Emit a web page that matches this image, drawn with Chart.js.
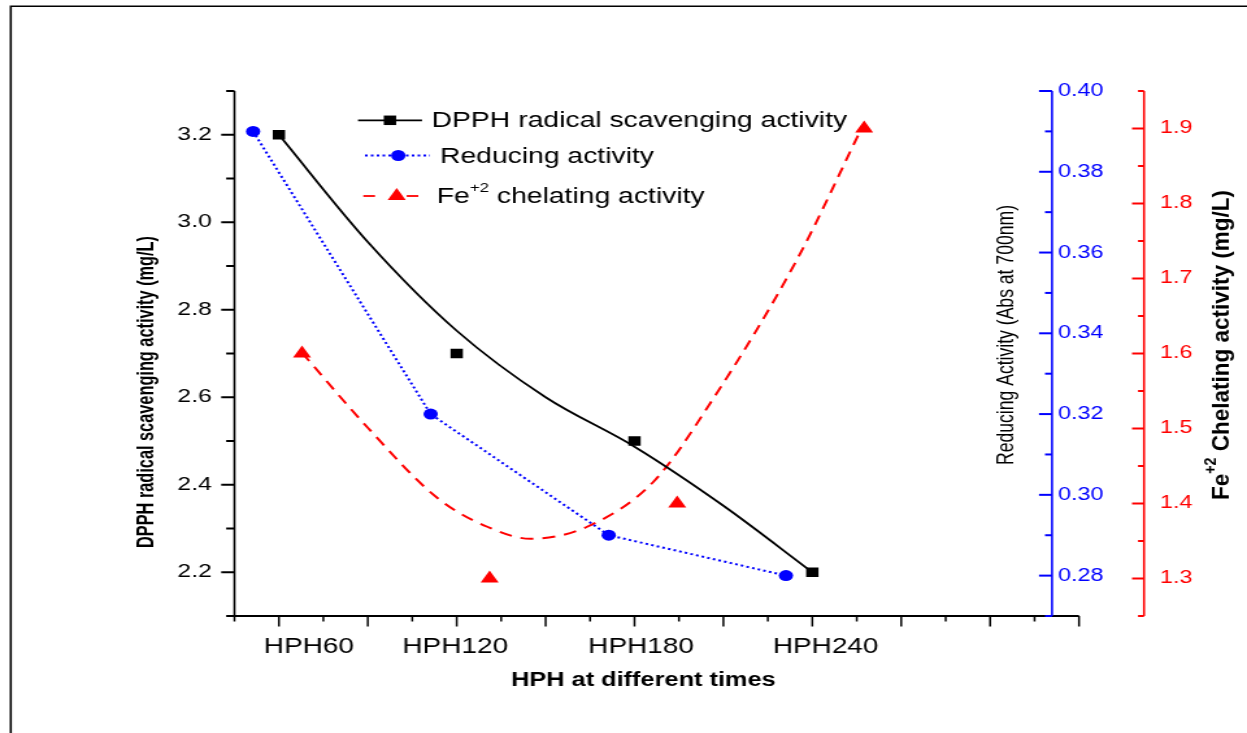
<!DOCTYPE html>
<html>
<head>
<meta charset="utf-8">
<title>HPH activities</title>
<script src="https://cdn.jsdelivr.net/npm/chart.js@4.4.1/dist/chart.umd.min.js"></script>
<style>
    html, body { margin: 0; padding: 0; background: #fff; overflow: hidden; }
    /* the original figure is stretched sideways, so draw narrow and widen it */
    #wrap { width: 960px; height: 733px; transform: scaleX(1.29896); transform-origin: 0 0; }
</style>
</head>
<body>
<div id="wrap"><canvas id="chart" width="960" height="733"></canvas></div>
<script>
// x axis tick labels
var timeLabels = ['HPH60', 'HPH120', 'HPH180', 'HPH240'];

// DPPH radical scavenging activity (mg/L) - squares
var dpphTimes = [60, 120, 180, 240];
var dpphValues = [3.2, 2.7, 2.5, 2.2];
// smoothed DPPH line
var dpphCurveTimes = [60, 90, 120, 150, 180, 210, 240];
var dpphCurveValues = [3.2, 2.955, 2.752, 2.600, 2.487, 2.352, 2.2];

// Reducing activity (Abs at 700nm) - circles
var reducingTimes = [51.3, 111.2, 171.3, 231.1];
var reducingValues = [0.39, 0.32, 0.29, 0.28];

// Fe+2 chelating activity (mg/L) - triangles
var chelatingTimes = [67.8, 131.1, 194.4, 257.5];
var chelatingValues = [1.6, 1.3, 1.4, 1.9];
// fitted chelating curve
var chelatingCurveTimes = [67.8, 90, 113.6, 130.3, 144.9, 164, 186.4, 205.6, 234.8, 256.7];
var chelatingCurveValues = [1.601, 1.501, 1.407, 1.369, 1.353, 1.369, 1.429, 1.534, 1.725, 1.901];

// layout (canvas px, before the sideways stretch)
var S = 1247 / 960;
var labelTimes = [70.1, 119.5, 182.2, 244.5];   // where the x labels sit
var blueAxisX = 1052 / S;
var redAxisX = 1144 / S;
var FONT = '"Liberation Sans", Arial, sans-serif';

function pts(xs, ys) {
    return xs.map(function (x, i) { return { x: x, y: ys[i] }; });
}

function seg(ctx, x1, y1, x2, y2) {
    ctx.beginPath();
    ctx.moveTo(x1, y1);
    ctx.lineTo(x2, y2);
    ctx.stroke();
}

// rotated axis title, squeezed to a given length (the original uses a narrow face)
function drawRotated(ctx, pieces, cx, cy, length) {
    var total = 0;
    pieces.forEach(function (p) {
        ctx.font = p.font;
        p.w = ctx.measureText(p.text).width;
        total += p.w;
    });
    ctx.save();
    ctx.translate(cx, cy);
    ctx.rotate(-Math.PI / 2);
    ctx.scale(length / total, 1);
    ctx.textAlign = 'left';
    ctx.textBaseline = 'middle';
    var x = -total / 2;
    pieces.forEach(function (p) {
        ctx.font = p.font;
        ctx.fillText(p.text, x, p.rise || 0);
        x += p.w;
    });
    ctx.restore();
}

function marker(ctx, style, x, y, color) {
    ctx.fillStyle = color;
    ctx.beginPath();
    if (style === 'rect') {
        ctx.rect(x - 4.75, y - 4.75, 9.5, 9.5);
    } else if (style === 'circle') {
        ctx.arc(x, y, 5.5, 0, Math.PI * 2);
    } else {
        ctx.moveTo(x, y - 8);
        ctx.lineTo(x + 6.93, y + 4);
        ctx.lineTo(x - 6.93, y + 4);
        ctx.closePath();
    }
    ctx.fill();
}

var originAxes = {
    id: 'originAxes',
    beforeDraw: function (chart) {
        var ctx = chart.ctx;
        ctx.save();
        ctx.fillStyle = '#fff';
        ctx.fillRect(0, 0, chart.width, chart.height);
        // outer frame, only top and left edges show
        ctx.strokeStyle = '#000';
        ctx.lineWidth = 1.6;
        ctx.beginPath();
        ctx.moveTo(8.3, chart.height);
        ctx.lineTo(8.3, 6.3);
        ctx.lineTo(chart.width, 6.3);
        ctx.stroke();
        ctx.restore();
    },
    afterDatasetsDraw: function (chart) {
        var ctx = chart.ctx;
        var a = chart.chartArea;
        var xs = chart.scales.x, yl = chart.scales.y, yb = chart.scales.y2, yr = chart.scales.y3;
        var i, v, p, major;
        ctx.save();
        ctx.lineCap = 'butt';

        // left axis
        ctx.strokeStyle = '#000';
        ctx.fillStyle = '#000';
        ctx.lineWidth = 1.6;
        seg(ctx, a.left, a.top, a.left, a.bottom + 1);
        ctx.lineWidth = 2;
        ctx.font = '19px ' + FONT;
        ctx.textAlign = 'right';
        ctx.textBaseline = 'middle';
        for (i = 0; i <= 12; i++) {
            v = 2.1 + i * 0.1;
            p = yl.getPixelForValue(v);
            major = i % 2 === 1;
            seg(ctx, a.left - (major ? 10.2 : 6.4), p, a.left, p);
            if (major) ctx.fillText(v.toFixed(1), a.left - 17.5, p);
        }

        // bottom axis
        ctx.lineWidth = 2;
        seg(ctx, a.left, a.bottom, a.right, a.bottom);
        ctx.lineWidth = 1.5;
        for (i = 0; i <= 19; i++) {
            v = 45 + i * 15;
            p = xs.getPixelForValue(v);
            major = i % 2 === 1;
            seg(ctx, p, a.bottom, p, a.bottom + (major ? 10.5 : 5.5));
        }
        ctx.font = '21.5px ' + FONT;
        ctx.textAlign = 'center';
        ctx.textBaseline = 'alphabetic';
        timeLabels.forEach(function (t, k) {
            ctx.fillText(t, xs.getPixelForValue(labelTimes[k]), 653);
        });
        ctx.font = 'bold 19.5px ' + FONT;
        ctx.fillText('HPH at different times', 495.3, 685.7);

        // blue axis (reducing activity)
        ctx.strokeStyle = '#0000ff';
        ctx.fillStyle = '#0000ff';
        ctx.lineWidth = 1.6;
        seg(ctx, blueAxisX, a.top, blueAxisX, a.bottom);
        ctx.lineWidth = 2;
        ctx.font = '18px ' + FONT;
        ctx.textAlign = 'left';
        ctx.textBaseline = 'middle';
        for (i = 0; i <= 13; i++) {
            v = 0.27 + i * 0.01;
            p = yb.getPixelForValue(v);
            major = i % 2 === 1;
            seg(ctx, blueAxisX - (major ? 10 : 5.4), p, blueAxisX, p);
            if (major) ctx.fillText(v.toFixed(2), blueAxisX + 4.6, p);
        }

        // red axis (chelating activity)
        ctx.strokeStyle = '#ff0000';
        ctx.fillStyle = '#ff0000';
        ctx.lineWidth = 1.6;
        seg(ctx, redAxisX, a.top, redAxisX, a.bottom);
        ctx.lineWidth = 2;
        for (i = 0; i <= 14; i++) {
            v = 1.25 + i * 0.05;
            p = yr.getPixelForValue(v);
            major = i % 2 === 1;
            seg(ctx, redAxisX - (major ? 9.2 : 4.6), p, redAxisX, p);
            if (major) ctx.fillText(v.toFixed(1), redAxisX + 12.3, p);
        }

        // axis titles
        ctx.fillStyle = '#000';
        drawRotated(ctx, [{ text: 'DPPH radical scavenging activity (mg/L)', font: 'bold 19px ' + FONT }],
            113.2, 392, 312);
        drawRotated(ctx, [{ text: 'Reducing Activity (Abs at 700nm)', font: '19px ' + FONT }],
            774.5, 335, 260);
        drawRotated(ctx, [
            { text: 'Fe', font: 'bold 19px ' + FONT },
            { text: '+2', font: 'bold 12px ' + FONT, rise: -8 },
            { text: ' Chelating activity (mg/L)', font: 'bold 19px ' + FONT }
        ], 940.7, 345, 310);

        // legend
        ctx.lineWidth = 1.8;
        ctx.strokeStyle = '#000';
        seg(ctx, 275.6, 120.3, 324.9, 120.3);
        marker(ctx, 'rect', 300.2, 120.3, '#000');

        ctx.strokeStyle = '#0000ff';
        ctx.setLineDash([2, 2.5]);
        seg(ctx, 281, 155.5, 331, 155.5);
        ctx.setLineDash([]);
        marker(ctx, 'circle', 306.6, 155.5, '#0000ff');

        ctx.strokeStyle = '#ff0000';
        seg(ctx, 279.7, 196, 288.7, 196);
        seg(ctx, 313.1, 196, 322, 196);
        marker(ctx, 'triangle', 305.4, 196, '#ff0000');

        ctx.fillStyle = '#000';
        ctx.textAlign = 'left';
        ctx.textBaseline = 'alphabetic';
        ctx.font = '21.8px ' + FONT;
        ctx.fillText('DPPH radical scavenging activity', 332.3, 127.3);
        ctx.fillText('Reducing activity', 338.7, 163.3);
        ctx.fillText('Fe', 336.2, 203.3);
        var feW = ctx.measureText('Fe').width;
        ctx.font = '13px ' + FONT;
        ctx.fillText('+2', 336.2 + feW, 191.7);
        var supW = ctx.measureText('+2').width;
        ctx.font = '21.8px ' + FONT;
        ctx.fillText(' chelating activity', 336.2 + feW + supW, 203.3);

        ctx.restore();
    }
};

var ctx = document.getElementById('chart').getContext('2d');
var chart = new Chart(ctx, {
    type: 'scatter',
    data: {
        datasets: [
            {
                label: 'DPPH curve',
                data: pts(dpphCurveTimes, dpphCurveValues),
                yAxisID: 'y',
                showLine: true,
                borderColor: '#000',
                borderWidth: 1.8,
                pointRadius: 0,
                cubicInterpolationMode: 'monotone'
            },
            {
                label: 'DPPH radical scavenging activity',
                data: pts(dpphTimes, dpphValues),
                yAxisID: 'y',
                showLine: false,
                pointStyle: 'rect',
                pointRadius: 6.7,
                backgroundColor: '#000',
                borderColor: '#000',
                pointBorderWidth: 0
            },
            {
                label: 'Reducing activity',
                data: pts(reducingTimes, reducingValues),
                yAxisID: 'y2',
                showLine: true,
                borderColor: '#0000ff',
                borderWidth: 2,
                borderDash: [2, 2.5],
                tension: 0,
                pointStyle: 'circle',
                pointRadius: 5.5,
                backgroundColor: '#0000ff',
                pointBorderWidth: 0
            },
            {
                label: 'Chelating curve',
                data: pts(chelatingCurveTimes, chelatingCurveValues),
                yAxisID: 'y3',
                showLine: true,
                borderColor: '#ff0000',
                borderWidth: 2,
                borderDash: [10, 7],
                pointRadius: 0,
                cubicInterpolationMode: 'monotone'
            },
            {
                label: 'Fe+2 chelating activity',
                data: pts(chelatingTimes, chelatingValues),
                yAxisID: 'y3',
                showLine: false,
                pointStyle: 'triangle',
                pointRadius: 8,
                backgroundColor: '#ff0000',
                borderColor: '#ff0000',
                pointBorderWidth: 0
            }
        ]
    },
    options: {
        responsive: false,
        animation: false,
        events: [],
        layout: {
            padding: { left: 180.5, right: 960 - 1079 / S, top: 91, bottom: 117 }
        },
        scales: {
            x: { type: 'linear', min: 45, max: 330, display: false },
            y: { min: 2.1, max: 3.3, display: false },
            y2: { min: 0.27, max: 0.40, display: false },
            y3: { min: 1.25, max: 1.95, display: false }
        },
        plugins: {
            legend: { display: false },
            tooltip: { enabled: false }
        }
    },
    plugins: [originAxes]
});
</script>
</body>
</html>
